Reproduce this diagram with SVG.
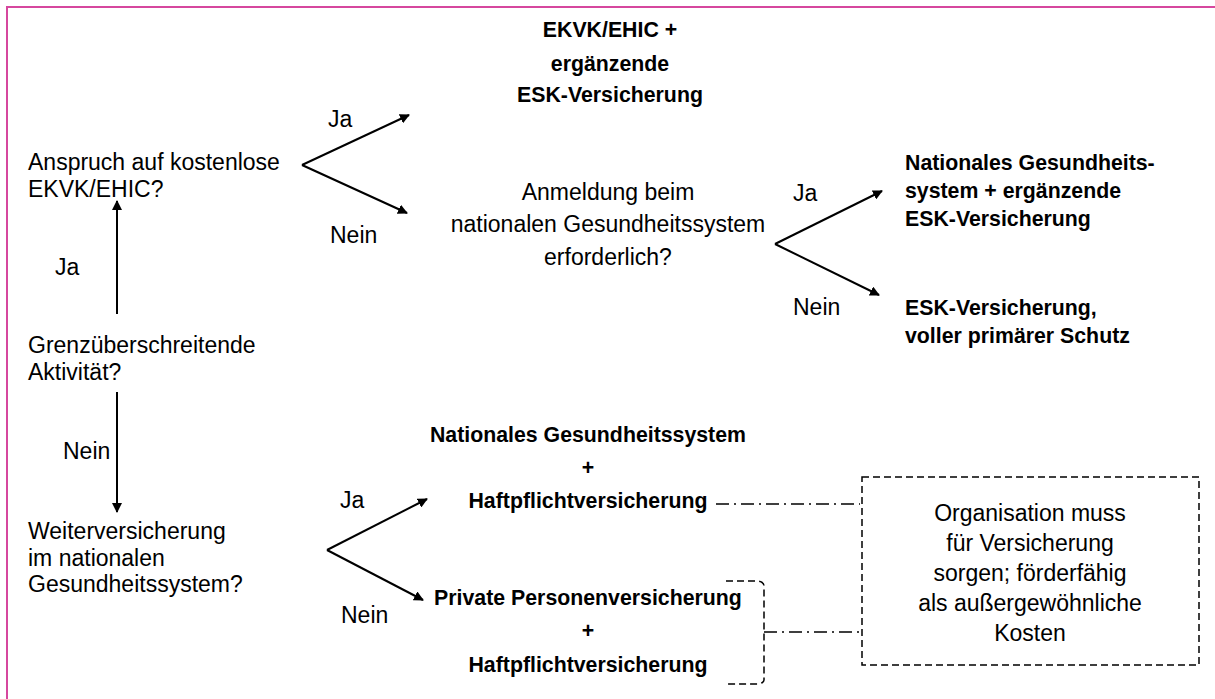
<svg xmlns="http://www.w3.org/2000/svg" width="1215" height="699" viewBox="0 0 1215 699">
<style>
text{font-family:"Liberation Sans",Arial,sans-serif;fill:#000}
.r{font-size:23px}
.b{font-size:21.3px;font-weight:bold}
.m{text-anchor:middle}
.arr{stroke:#000;stroke-width:2;fill:none;marker-end:url(#ah)}
.dd{stroke:#000;stroke-width:1.5;fill:none;stroke-dasharray:13 5 2 5}
.ds{stroke:#000;stroke-width:1.5;fill:none;stroke-dasharray:7 4}
</style>
<defs>
<marker id="ah" viewBox="0 0 10 10" refX="9" refY="5" markerWidth="5" markerHeight="5" orient="auto" markerUnits="strokeWidth">
<path d="M0,0 L10,5 L0,10 z" fill="#000"/>
</marker>
</defs>
<rect x="7" y="7" width="1212" height="700" fill="#fff" stroke="#d6479e" stroke-width="2"/>

<g id="connectors">
<line class="arr" x1="302" y1="165" x2="409" y2="115"/>
<line class="arr" x1="302" y1="165" x2="407" y2="213"/>
<line class="arr" x1="775" y1="244" x2="882" y2="191"/>
<line class="arr" x1="775" y1="244" x2="879" y2="295"/>
<line class="arr" x1="117" y1="314" x2="117" y2="201"/>
<line class="arr" x1="117" y1="392" x2="117" y2="512"/>
<line class="arr" x1="327" y1="550" x2="427" y2="499"/>
<line class="arr" x1="327" y1="550" x2="423" y2="600"/>
<line class="dd" x1="716" y1="504" x2="860" y2="504"/>
<path class="ds" d="M726,581 L758,581 Q764,582 764,586 L764,680 Q764,683 758,684 L726,684"/>
<line class="dd" x1="764" y1="632" x2="860" y2="632"/>
</g>

<g id="q-ekvk">
<text class="r" x="28" y="170">Anspruch auf kostenlose</text>
<text class="r" x="28" y="197">EKVK/EHIC?</text>
</g>
<g id="q-grenz">
<text class="r" x="28" y="353">Grenzüberschreitende</text>
<text class="r" x="28" y="380">Aktivität?</text>
</g>
<g id="q-weiter">
<text class="r" x="28" y="539">Weiterversicherung</text>
<text class="r" x="28" y="566">im nationalen</text>
<text class="r" x="28" y="592">Gesundheitssystem?</text>
</g>
<g id="q-anmeldung">
<text class="r m" x="608" y="200">Anmeldung beim</text>
<text class="r m" x="608" y="232">nationalen Gesundheitssystem</text>
<text class="r m" x="608" y="265">erforderlich?</text>
</g>
<g id="r-ekvk">
<text class="b m" x="610" y="37">EKVK/EHIC +</text>
<text class="b m" x="610" y="71">ergänzende</text>
<text class="b m" x="610" y="102">ESK-Versicherung</text>
</g>
<g id="r-national-esk">
<text class="b" x="905" y="170">Nationales Gesundheits-</text>
<text class="b" x="905" y="198">system + ergänzende</text>
<text class="b" x="905" y="226">ESK-Versicherung</text>
</g>
<g id="r-esk-voll">
<text class="b" x="905" y="315">ESK-Versicherung,</text>
<text class="b" x="905" y="343">voller primärer Schutz</text>
</g>
<g id="r-national-haft">
<text class="b m" x="588" y="442">Nationales Gesundheitssystem</text>
<text class="b m" x="588" y="475">+</text>
<text class="b m" x="588" y="508">Haftpflichtversicherung</text>
</g>
<g id="r-privat-haft">
<text class="b m" x="588" y="605">Private Personenversicherung</text>
<text class="b m" x="588" y="638">+</text>
<text class="b m" x="588" y="672">Haftpflichtversicherung</text>
</g>
<g id="note">
<rect class="ds" x="862" y="477" width="337" height="188"/>
<text class="r m" x="1030" y="521">Organisation muss</text>
<text class="r m" x="1030" y="551">für Versicherung</text>
<text class="r m" x="1030" y="581">sorgen; förderfähig</text>
<text class="r m" x="1030" y="611">als außergewöhnliche</text>
<text class="r m" x="1030" y="641">Kosten</text>
</g>
<g id="labels">
<text class="r" x="328" y="127">Ja</text>
<text class="r" x="330" y="243">Nein</text>
<text class="r" x="793" y="201">Ja</text>
<text class="r" x="793" y="315">Nein</text>
<text class="r" x="55" y="275">Ja</text>
<text class="r" x="63" y="459">Nein</text>
<text class="r" x="340" y="508">Ja</text>
<text class="r" x="341" y="623">Nein</text>
</g>
</svg>
